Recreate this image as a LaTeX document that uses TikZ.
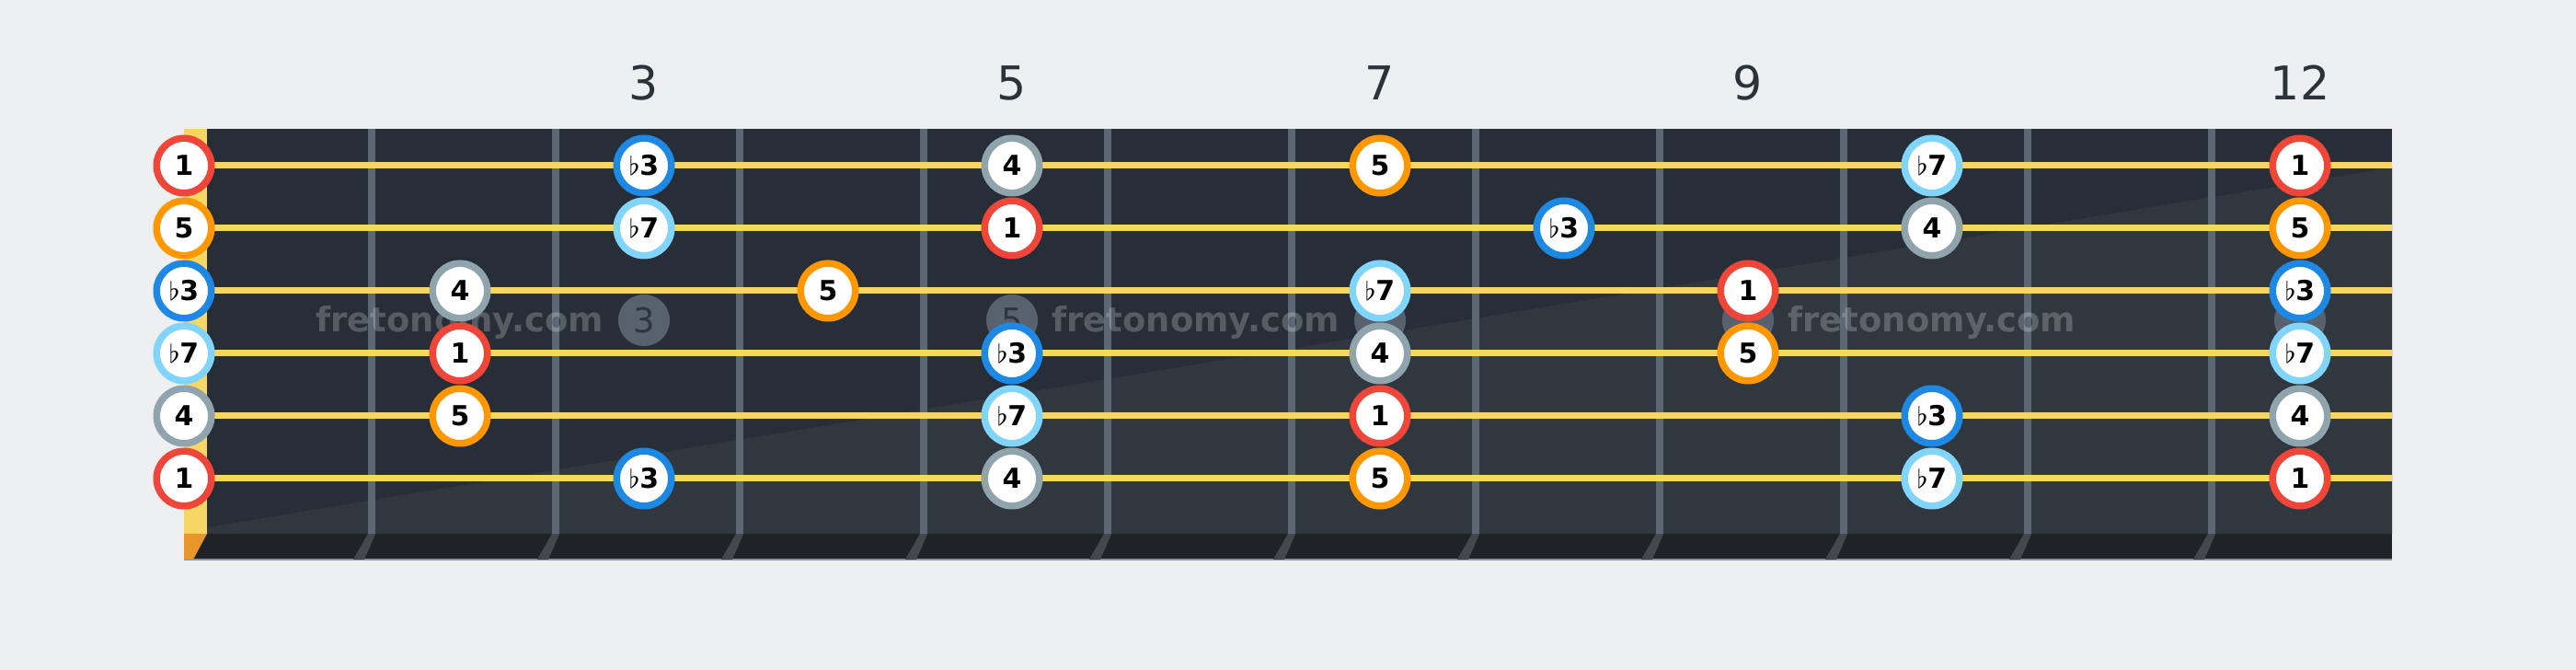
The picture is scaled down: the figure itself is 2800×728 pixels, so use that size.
\documentclass[tikz,border=0pt]{standalone}
\usepackage{fontspec}
\setmainfont{DejaVu Sans}

\definecolor{bgcol}{HTML}{EEEFF1}
\definecolor{boardtop}{HTML}{282E37}
\definecolor{boardlow}{HTML}{31373F}
\definecolor{stripcol}{HTML}{1F2226}
\definecolor{nutcol}{HTML}{F8D664}
\definecolor{nutshade}{HTML}{E8952A}
\definecolor{fretcol}{HTML}{5B6775}
\definecolor{fretshadow}{HTML}{44474B}
\definecolor{dotcol}{HTML}{57626E}
\definecolor{dottext}{HTML}{2E353E}
\definecolor{numcol}{HTML}{2B323A}
\definecolor{stringcol}{HTML}{F8D660}
\definecolor{rootred}{HTML}{F04539}
\definecolor{fifthor}{HTML}{FF9800}
\definecolor{thirdbl}{HTML}{1E88E5}
\definecolor{seventhbl}{HTML}{81D4FA}
\definecolor{fourthgr}{HTML}{90A4AE}

\newcommand{\fl}{{\mdseries$\flat$}}

\tikzset{
  note/.style={circle, fill=white, line width=0.75mm, minimum size=5.95mm,
    inner sep=0pt, text=black, font=\fontsize{8.5}{10}\selectfont\bfseries},
  deg1/.style={note, draw=rootred},
  deg5/.style={note, draw=fifthor},
  degb3/.style={note, draw=thirdbl},
  degb7/.style={note, draw=seventhbl},
  deg4/.style={note, draw=fourthgr},
  fretnum/.style={text=numcol, font=\fontsize{14.4}{16}\selectfont},
  fretdot/.style={circle, fill=dotcol, minimum size=5.6mm, inner sep=0pt,
    text=dottext, font=\fontsize{10.5}{12}\selectfont},
  wmark/.style={text=white, opacity=0.22, font=\fontsize{10.5}{12}\selectfont\bfseries},
  stringline/.style={stringcol, line width=0.7mm},
  fretwire/.style={fretcol, line width=0.8mm}
}

\begin{document}
\begin{tikzpicture}[x=0.1mm,y=-0.1mm]
  \fill[bgcol] (0,0) rectangle (2800,728);
  \useasboundingbox (0,0) rectangle (2800,728);

  % neck
  \fill[boardtop] (225,140) rectangle (2600,580);
  \fill[boardlow] (225,573) -- (2600,182) -- (2600,580) -- (225,580) -- cycle;
  \fill[stripcol] (200,580) rectangle (2600,608);
  \draw[fretcol!70, line width=0.15mm] (200,608) -- (2600,608);
  \fill[nutcol] (200,140) rectangle (225,580);
  \fill[nutshade] (200,580) -- (225,580) -- (210,608) -- (200,608) -- cycle;

  % frets
  \foreach \x in {404,604,...,2404}{
    \fill[fretshadow] (\x-4,580) -- (\x+4,580) -- (\x-8,608) -- (\x-20,608) -- cycle;
    \draw[fretwire] (\x,140) -- (\x,580);
  }

  % inlays
  \node[fretdot] (dot3) at (700,348) {3};
  \node[fretdot] (dot5) at (1100,348) {5};
  \node[fretdot] (dot7) at (1500,348) {};
  \node[fretdot] (dot9) at (1900,348) {};
  \node[fretdot] (dot12) at (2500,348) {};

  \node[wmark] (wm1) at (500,350) {fretonomy.com};
  \node[wmark] (wm2) at (1300,350) {fretonomy.com};
  \node[wmark] (wm3) at (2100,350) {fretonomy.com};

  % strings
  \coordinate (s1a) at (200,180); \coordinate (s1b) at (2600,180);
  \coordinate (s2a) at (200,248); \coordinate (s2b) at (2600,248);
  \coordinate (s3a) at (200,316); \coordinate (s3b) at (2600,316);
  \coordinate (s4a) at (200,384); \coordinate (s4b) at (2600,384);
  \coordinate (s5a) at (200,452); \coordinate (s5b) at (2600,452);
  \coordinate (s6a) at (200,520); \coordinate (s6b) at (2600,520);
  \draw[stringline] (s1a) -- (s1b);
  \draw[stringline] (s2a) -- (s2b);
  \draw[stringline] (s3a) -- (s3b);
  \draw[stringline] (s4a) -- (s4b);
  \draw[stringline] (s5a) -- (s5b);
  \draw[stringline] (s6a) -- (s6b);

  % fret numbers
  \node[fretnum] (fn3) at (700,90) {3};
  \node[fretnum] (fn5) at (1100,90) {5};
  \node[fretnum] (fn7) at (1500,90) {7};
  \node[fretnum] (fn9) at (1900,90) {9};
  \node[fretnum] (fn12) at (2500,90) {12};

  % string 1
  \node[deg1]  (s1f0)  at (200,180)  {1};
  \node[degb3] (s1f3)  at (700,180)  {\fl3};
  \node[deg4]  (s1f5)  at (1100,180) {4};
  \node[deg5]  (s1f7)  at (1500,180) {5};
  \node[degb7] (s1f10) at (2100,180) {\fl7};
  \node[deg1]  (s1f12) at (2500,180) {1};

  % string 2
  \node[deg5]  (s2f0)  at (200,248)  {5};
  \node[degb7] (s2f3)  at (700,248)  {\fl7};
  \node[deg1]  (s2f5)  at (1100,248) {1};
  \node[degb3] (s2f8)  at (1700,248) {\fl3};
  \node[deg4]  (s2f10) at (2100,248) {4};
  \node[deg5]  (s2f12) at (2500,248) {5};

  % string 3
  \node[degb3] (s3f0)  at (200,316)  {\fl3};
  \node[deg4]  (s3f2)  at (500,316)  {4};
  \node[deg5]  (s3f4)  at (900,316)  {5};
  \node[degb7] (s3f7)  at (1500,316) {\fl7};
  \node[deg1]  (s3f9)  at (1900,316) {1};
  \node[degb3] (s3f12) at (2500,316) {\fl3};

  % string 4
  \node[degb7] (s4f0)  at (200,384)  {\fl7};
  \node[deg1]  (s4f2)  at (500,384)  {1};
  \node[degb3] (s4f5)  at (1100,384) {\fl3};
  \node[deg4]  (s4f7)  at (1500,384) {4};
  \node[deg5]  (s4f9)  at (1900,384) {5};
  \node[degb7] (s4f12) at (2500,384) {\fl7};

  % string 5
  \node[deg4]  (s5f0)  at (200,452)  {4};
  \node[deg5]  (s5f2)  at (500,452)  {5};
  \node[degb7] (s5f5)  at (1100,452) {\fl7};
  \node[deg1]  (s5f7)  at (1500,452) {1};
  \node[degb3] (s5f10) at (2100,452) {\fl3};
  \node[deg4]  (s5f12) at (2500,452) {4};

  % string 6
  \node[deg1]  (s6f0)  at (200,520)  {1};
  \node[degb3] (s6f3)  at (700,520)  {\fl3};
  \node[deg4]  (s6f5)  at (1100,520) {4};
  \node[deg5]  (s6f7)  at (1500,520) {5};
  \node[degb7] (s6f10) at (2100,520) {\fl7};
  \node[deg1]  (s6f12) at (2500,520) {1};
\end{tikzpicture}
\end{document}
